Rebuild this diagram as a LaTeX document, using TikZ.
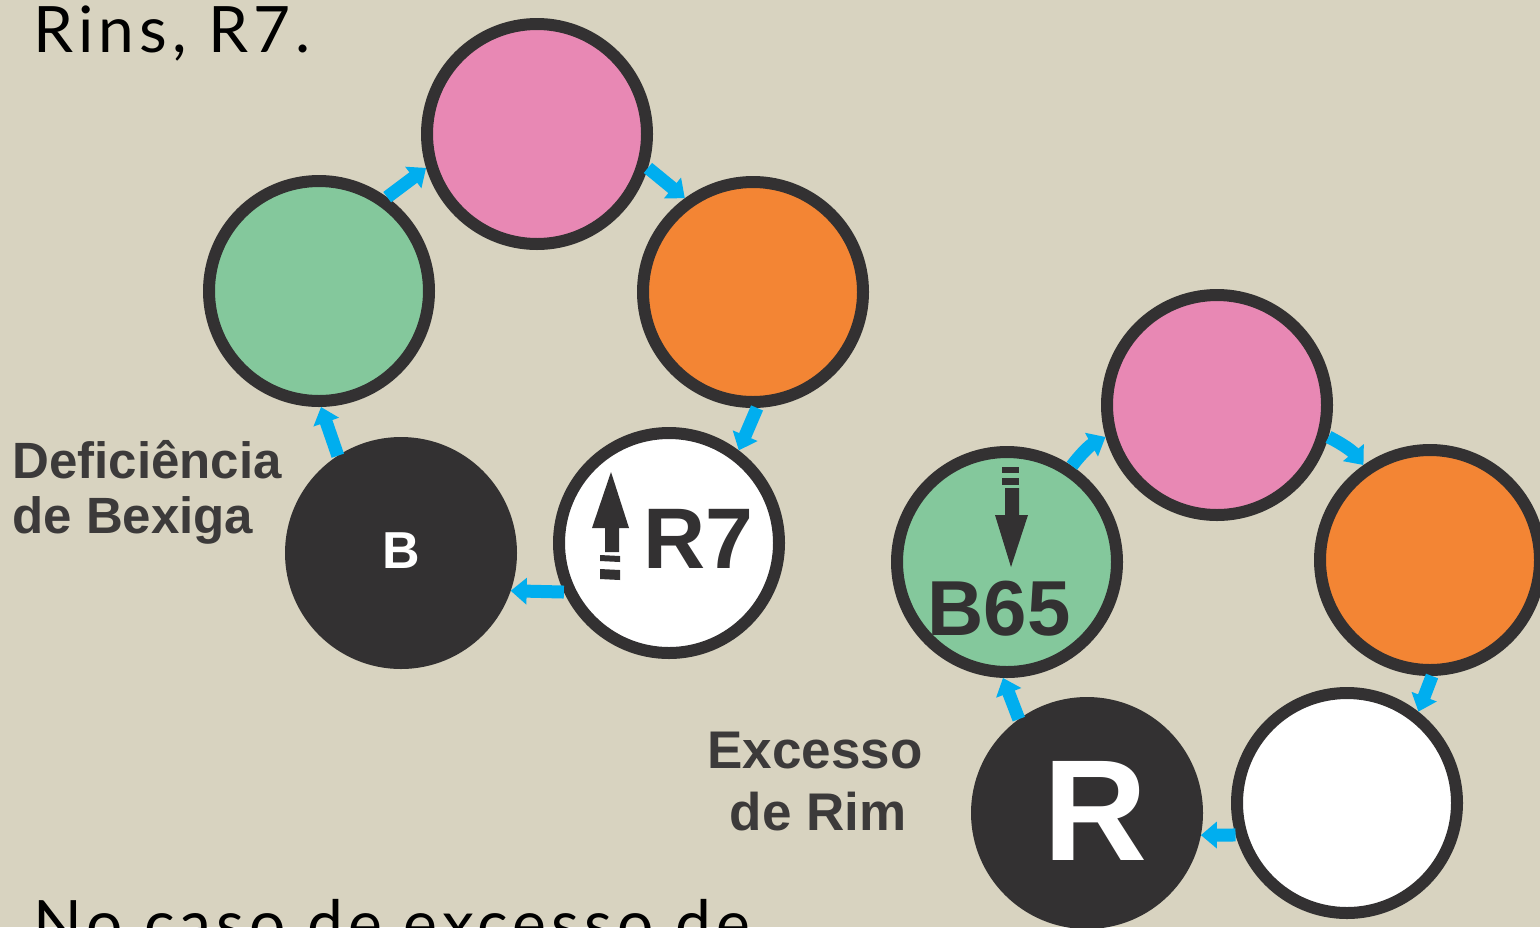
\documentclass[tikz,border=0pt]{standalone}
\usepackage{fontspec}
\setmainfont{Liberation Sans}
\newfontfamily\bodyfnt[LetterSpace=8]{Lato}
\usetikzlibrary{arrows.meta}
\definecolor{bg}{RGB}{216,211,192}
\definecolor{dark}{RGB}{51,49,50}
\definecolor{pinkc}{RGB}{232,136,180}
\definecolor{greenc}{RGB}{132,200,156}
\definecolor{orangec}{RGB}{243,133,52}
\definecolor{cyanb}{RGB}{0,174,239}
\definecolor{lblgray}{RGB}{60,58,58}
\begin{document}
\begin{tikzpicture}[x=0.5pt,y=-0.5pt,
  disc/.style={circle,draw=dark,line width=6pt,minimum size=110pt,inner sep=0pt},
  flow/.style={draw=cyanb,line width=6.5pt,-{Triangle[width=13pt,length=8pt]}},
  lbl/.style={text=lblgray,font=\bfseries\fontsize{25.5}{30}\selectfont,inner sep=0pt},
  lblr/.style={text=lblgray,font=\bfseries\fontsize{26.5}{30}\selectfont,inner sep=0pt},
  big/.style={text=black,font=\bodyfnt\fontsize{32}{36}\selectfont,inner sep=0pt,anchor=base west},
  icon/.style={fill=dark,draw=none}
]
\fill[bg] (0,0) rectangle (1540,927);
\useasboundingbox (0,0) rectangle (1540,927);

% top and bottom text
\node[big] (t1) at (33,52) {Rins, R7.};
\node[big] (t2) at (33,946) {No caso de excesso de};

% left group
\node[disc,fill=pinkc]   (p1) at (537,134) {};
\node[disc,fill=greenc]  (g1) at (319,291) {};
\node[disc,fill=orangec] (o1) at (753,292) {};
\node[disc,fill=dark]    (b1) at (401,553) {};
\node[disc,fill=white]   (w1) at (669,543) {};

\node[text=white,font=\bfseries\fontsize{26}{28}\selectfont,inner sep=0pt,anchor=base] (bt) at (401,568) {B};
\node[text=dark,font=\bfseries\fontsize{43}{46}\selectfont,inner sep=0pt,anchor=base west] (r7t) at (643,568) {R7};
% up arrow icon in R7
\fill[icon] (611,472) -- (629,528) -- (619,528) -- (619,552) -- (605,552) -- (605,528) -- (592,528) -- cycle;
\fill[icon] (600,555) -- (620,556) -- (620,562) -- (600,561) -- cycle;
\fill[icon] (600,569) -- (620,570) -- (620,580) -- (600,579) -- cycle;

\node[lbl,anchor=base west] (l1) at (12,478) {Deficiência};
\node[lbl,anchor=base west] (l2) at (12,533) {de Bexiga};

\draw[flow] (g1.54) -- (p1.197);
\draw[flow] (p1.-17) -- (o1.126);
\draw[flow] (o1.-88) -- (w1.53);
\draw[flow] (w1.205) -- (b1.-19);
\draw[flow] (b1.123) -- (g1.-89);

% right group
\node[disc,fill=pinkc]   (p2) at (1217,405) {};
\node[disc,fill=orangec] (o2) at (1430,560) {};
\node[disc,fill=greenc]  (g2) at (1007,562) {};
\node[disc,fill=dark]    (r2) at (1087,813) {};
\node[disc,fill=white]   (w2) at (1347,803) {};

\node[text=white,font=\bfseries\fontsize{72}{76}\selectfont,inner sep=0pt,anchor=base] (rt) at (1095,860) {R};
\node[text=dark,font=\bfseries\fontsize{39}{42}\selectfont,inner sep=0pt,anchor=base] (b65) at (999,635) {B65};
% down arrow icon in B65
\fill[icon] (1002,467) rectangle (1019,473);
\fill[icon] (1002,478) rectangle (1019,485);
\fill[icon] (1005,488) -- (1019,488) -- (1019,515) -- (1028,515) -- (1011,567) -- (995,515) -- (1005,515) -- cycle;

\node[lblr,anchor=base] (l3) at (815,768) {Excesso};
\node[lblr,anchor=base] (l4) at (818,830) {de Rim};

\draw[flow] (g2.56) to[bend left=12] (p2.196);
\draw[flow] (p2.-16) to[bend left=12] (o2.125);
\draw[flow] (o2.-89) -- (w2.52);
\draw[flow] (w2.196) -- (r2.-11);
\draw[flow] (r2.126) -- (g2.-92);
\end{tikzpicture}
\end{document}
